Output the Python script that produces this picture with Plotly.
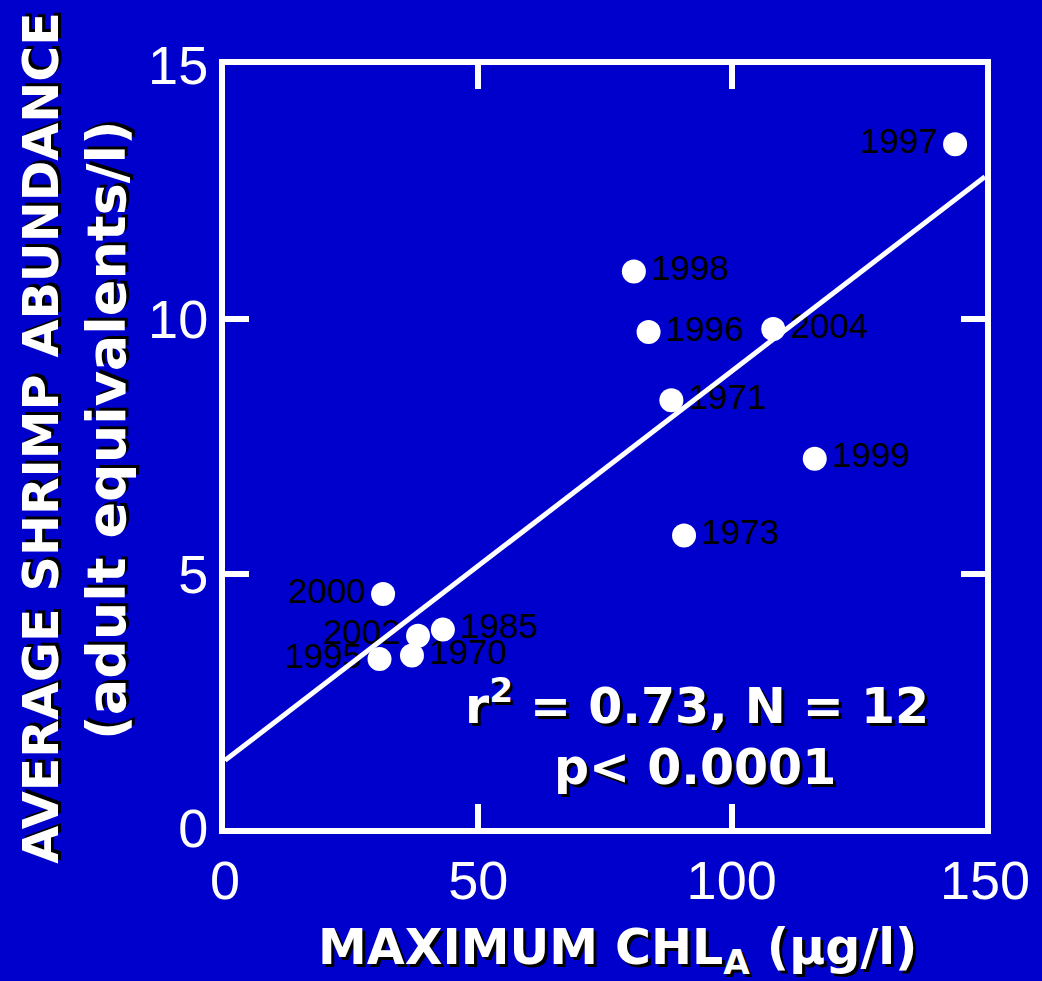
import plotly.graph_objects as go

# Peak chlorophyll vs. average shrimp abundance, one point per year
years = ["1997", "1998", "1996", "2004", "1971", "1999", "1973",
         "2000", "1985", "2002", "1970", "1995"]
max_chla = [144.1, 80.7, 83.6, 108.2, 88.1, 116.4, 90.6,
            31.2, 43.0, 38.1, 36.9, 30.5]
shrimp_abundance = [13.44, 10.94, 9.75, 9.81, 8.41, 7.26, 5.75,
                    4.60, 3.90, 3.78, 3.39, 3.32]
label_side = ["middle left", "middle right", "middle right", "middle right",
              "middle right", "middle right", "middle right",
              "middle left", "middle right", "middle left", "middle right",
              "middle left"]

# Linear regression line
fit_intercept = 1.33
fit_slope = 0.0765
fit_x = [0, 150]
fit_y = [fit_intercept + fit_slope * v for v in fit_x]

x_ticks = [0, 50, 100, 150]
y_ticks = [0, 5, 10, 15]

BG = "rgb(0,0,204)"
TITLE_FONT = "Comic Sans MS, DejaVu Sans"
SHADOW = "3px 3px 0px black"

fig = go.Figure()

# year labels sit underneath the line and the dots; the invisible markers
# push each label clear of its dot
fig.add_trace(go.Scatter(
    x=max_chla, y=shrimp_abundance, mode="markers+text", text=years,
    textposition=label_side,
    marker=dict(size=26, color="rgba(0,0,0,0)"),
    textfont=dict(family="Liberation Sans, Arial", size=35, color="black"),
    hoverinfo="skip", showlegend=False, cliponaxis=False,
))
fig.add_trace(go.Scatter(
    x=fit_x, y=fit_y, mode="lines",
    line=dict(color="white", width=5), showlegend=False,
))
fig.add_trace(go.Scatter(
    x=max_chla, y=shrimp_abundance, mode="markers",
    marker=dict(color="white", size=24, line=dict(width=0)),
    showlegend=False, cliponaxis=False,
))

axis_common = dict(
    showline=True, linewidth=6, linecolor="white", mirror="ticks",
    ticks="inside", ticklen=24, tickwidth=6, tickcolor="white",
    showgrid=False, zeroline=False,
    tickfont=dict(family="Liberation Sans, Arial", size=54, color="white"),
)

fig.update_layout(
    width=1042, height=981,
    margin=dict(l=225, r=55, t=65, b=153),
    paper_bgcolor=BG, plot_bgcolor=BG,
    xaxis=dict(range=[0, 150], tickvals=x_ticks, **axis_common),
    yaxis=dict(range=[0, 15], tickvals=y_ticks, **axis_common),
    annotations=[
        dict(text="MAXIMUM CHL<sub>A</sub> (µg/l)", xref="paper", yref="paper",
             x=0.516, y=-0.160, xanchor="center", yanchor="middle",
             showarrow=False,
             font=dict(family=TITLE_FONT, size=49, color="white",
                       weight="bold", shadow=SHADOW)),
        dict(text="AVERAGE SHRIMP ABUNDANCE", xref="paper", yref="paper",
             x=-0.2415, y=0.512, xanchor="center", yanchor="middle",
             textangle=-90, showarrow=False,
             font=dict(family=TITLE_FONT, size=49, color="white",
                       weight="bold", shadow=SHADOW)),
        dict(text="(adult equivalents/l)", xref="paper", yref="paper",
             x=-0.155, y=0.522, xanchor="center", yanchor="middle",
             textangle=-90, showarrow=False,
             font=dict(family=TITLE_FONT, size=54, color="white",
                       weight="bold", shadow=SHADOW)),
        dict(text="r<sup>2</sup> = 0.73, N = 12", xref="paper", yref="paper",
             x=0.621, y=0.164, xanchor="center", yanchor="middle",
             showarrow=False,
             font=dict(family=TITLE_FONT, size=49, color="white",
                       weight="bold", shadow=SHADOW)),
        dict(text="p< 0.0001", xref="paper", yref="paper",
             x=0.618, y=0.079, xanchor="center", yanchor="middle",
             showarrow=False,
             font=dict(family=TITLE_FONT, size=49, color="white",
                       weight="bold", shadow=SHADOW)),
    ],
)

fig.write_html("out.html")
